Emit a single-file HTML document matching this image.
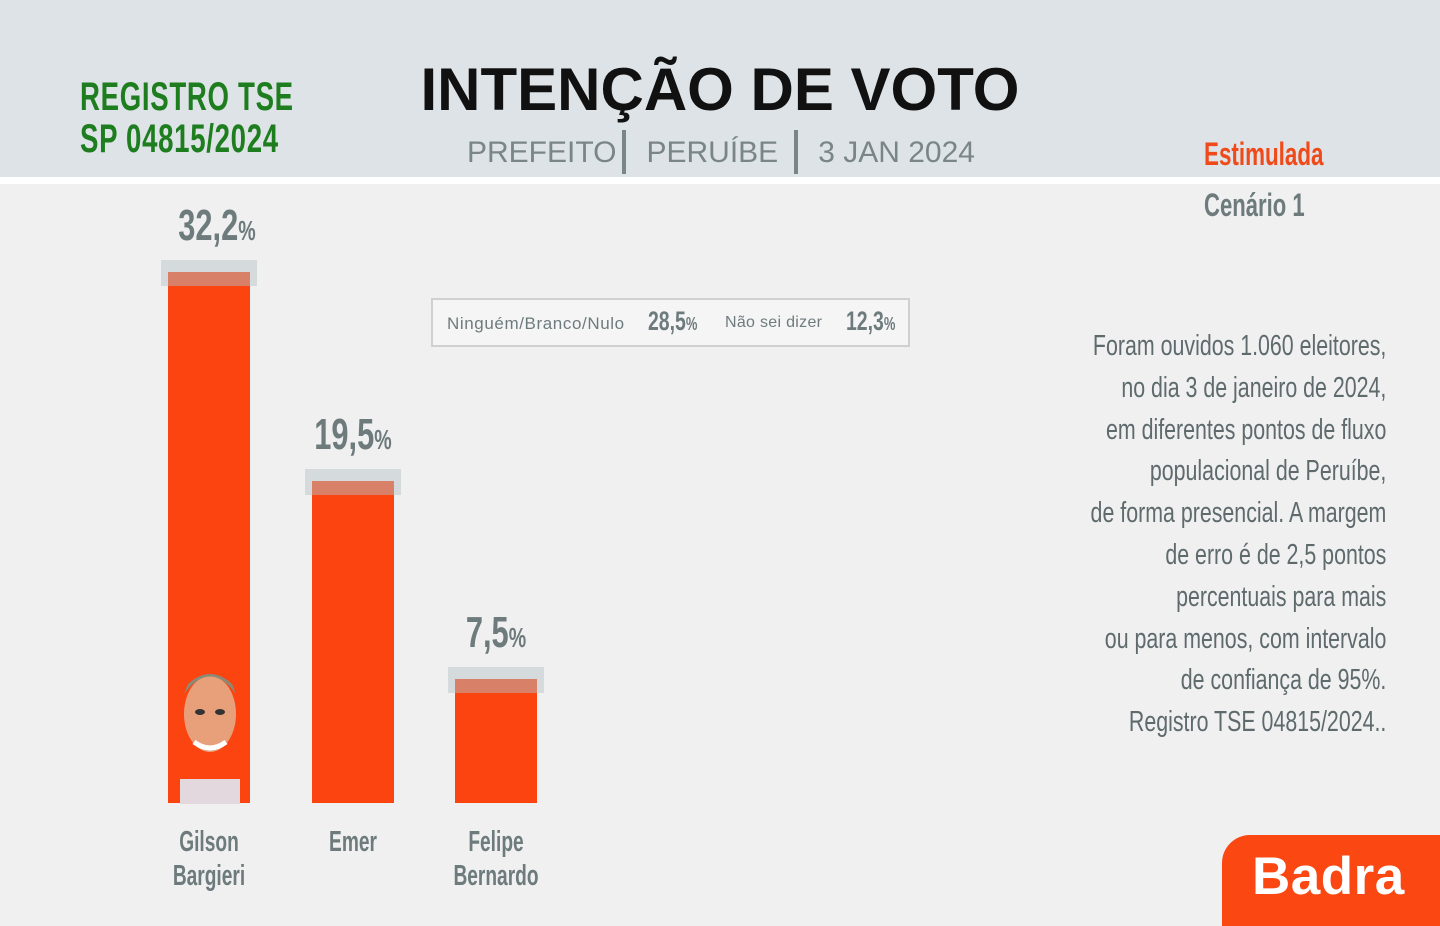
<!DOCTYPE html>
<html><head><meta charset="utf-8">
<style>
body{margin:0;width:1440px;height:926px;background:#f0f0f0;position:relative;overflow:hidden;font-family:"Liberation Sans",sans-serif}
.abs{position:absolute}
.cond{font-family:"Liberation Sans Narrow","Liberation Sans",sans-serif;transform-origin:left top}
</style></head>
<body>
<div class="abs" style="left:0;top:0;width:1440px;height:177px;background:#dde3e6"></div>
<div class="abs" style="left:0;top:177px;width:1440px;height:7px;background:#fff"></div>
<div class="abs cond" style="left:80px;top:76px;font-size:40px;font-weight:bold;color:#1e7d1e;line-height:42px;letter-spacing:1px;transform:scaleX(0.69)">REGISTRO TSE<br>SP 04815/2024</div>
<div class="abs" style="left:0;width:1440px;top:55px;text-align:center;font-size:60px;font-weight:bold;color:#111;">INTENÇÃO DE VOTO</div>
<div class="abs" style="left:467px;top:130px;font-size:30px;color:#7a8588;white-space:nowrap">PREFEITO<span style="display:inline-block;width:4px;height:44px;background:#7a8588;vertical-align:-12px;margin:0 20px 0 6px"></span>PERUÍBE<span style="display:inline-block;width:4px;height:44px;background:#7a8588;vertical-align:-12px;margin:0 20px 0 16px"></span>3 JAN 2024</div>
<div class="abs cond" style="left:1204px;top:136px;font-size:32px;font-weight:bold;color:#f04a1a;transform:scaleX(0.70)">Estimulada</div>
<div class="abs cond" style="left:1204px;top:187px;font-size:32px;font-weight:bold;color:#6e7b7d;transform:scaleX(0.69)">Cenário 1</div>
<div class="abs" style="left:431px;top:298px;width:479px;height:49px;border:2px solid #d0d0d0;background:#f5f5f5;box-sizing:border-box"></div>
<div class="abs" style="left:447px;top:314px;font-size:17px;letter-spacing:0.6px;color:#6e7b7d">Ninguém/Branco/Nulo</div>
<div class="abs cond" style="left:648px;top:306px;font-size:27px;font-weight:bold;color:#6e7b7d;transform:scaleX(0.72)">28,5<span style="font-size:18px">%</span></div>
<div class="abs" style="left:725px;top:314px;font-size:16px;letter-spacing:0.3px;color:#6e7b7d">Não sei dizer</div>
<div class="abs cond" style="left:846px;top:306px;font-size:27px;font-weight:bold;color:#6e7b7d;transform:scaleX(0.72)">12,3<span style="font-size:18px">%</span></div>
<div class="abs cond" style="right:54px;top:326px;font-size:29px;line-height:41.8px;color:#5e6a6c;text-align:right;white-space:nowrap;transform:scaleX(0.737);transform-origin:right top">Foram ouvidos 1.060 eleitores,<br>no dia 3 de janeiro de 2024,<br>em diferentes pontos de fluxo<br>populacional de Peruíbe,<br>de forma presencial. A margem<br>de erro é de 2,5 pontos<br>percentuais para mais<br>ou para menos,  com intervalo<br>de confiança de 95%.<br>Registro TSE 04815/2024..</div>
<div class="abs" style="left:1222px;top:835px;width:218px;height:91px;background:#fb4711;border-top-left-radius:28px"></div>
<div class="abs" style="left:1252px;top:846px;font-size:53px;font-weight:bold;color:#fff;letter-spacing:0.5px">Badra</div>
<div id="chart"></div>
<script>
const categories=["Gilson|Bargieri","Emer","Felipe|Bernardo"];
const values=[32.2,19.5,7.5];
const labels=["32,2","19,5","7,5"];
const base=803, scale=16.5, x0=168, step=143.5, bw=82;
const yPos=v=>base-v*scale;
const c=document.getElementById('chart');
values.forEach((v,i)=>{
  const x=x0+i*step, top=yPos(v);
  const cap=document.createElement('div');
  
  
  cap.className='abs';
  cap.style.cssText=`left:${x-7}px;top:${top-12}px;width:${bw+14}px;height:26px;background:#d5dbdd`;
  c.appendChild(cap);
  const b=document.createElement('div');
  
  
  b.className='abs';
  b.style.cssText=`left:${x}px;top:${top}px;width:${bw}px;height:${base-top}px;background:linear-gradient(#d98068 0,#d98068 14px,#fc4410 14px)`;
  c.appendChild(b);
  const l=document.createElement('div');
  
  
  l.className='abs cond';
  const cx=x+bw/2+(i===0?8:0);
  l.style.cssText=`left:${cx-100}px;width:200px;text-align:center;top:${top-71}px;font-size:44px;font-weight:bold;color:#6e7b7d;transform:scaleX(0.70);transform-origin:center top;white-space:nowrap`;
  l.innerHTML=labels[i]+'<span style="font-size:28px">%</span>';
  c.appendChild(l);
  const n=document.createElement('div');
  
  
  n.className='abs cond';
  n.style.cssText=`left:${x+bw/2-100}px;width:200px;top:825px;font-size:29px;line-height:34px;font-weight:bold;color:#6e7b7d;text-align:center;transform:scaleX(0.66);transform-origin:center top`;
  n.innerHTML=categories[i].replace('|','<br>');
  c.appendChild(n);
});
</script>
<svg class="abs" style="left:176px;top:664px" width="68" height="140">
<rect x="4" y="115" width="60" height="25" fill="#e3d8de"/>
<ellipse cx="34" cy="50" rx="26" ry="38" fill="#e7a07a"/>
<path d="M8 30 Q34 -5 60 30 L56 20 Q34 0 12 20Z" fill="#8a8a78"/>
<path d="M18 78 Q34 90 50 78" stroke="#fff" stroke-width="5" fill="none"/>
<ellipse cx="24" cy="48" rx="5" ry="3" fill="#333"/><ellipse cx="44" cy="48" rx="5" ry="3" fill="#333"/>
</svg>
</body></html>
